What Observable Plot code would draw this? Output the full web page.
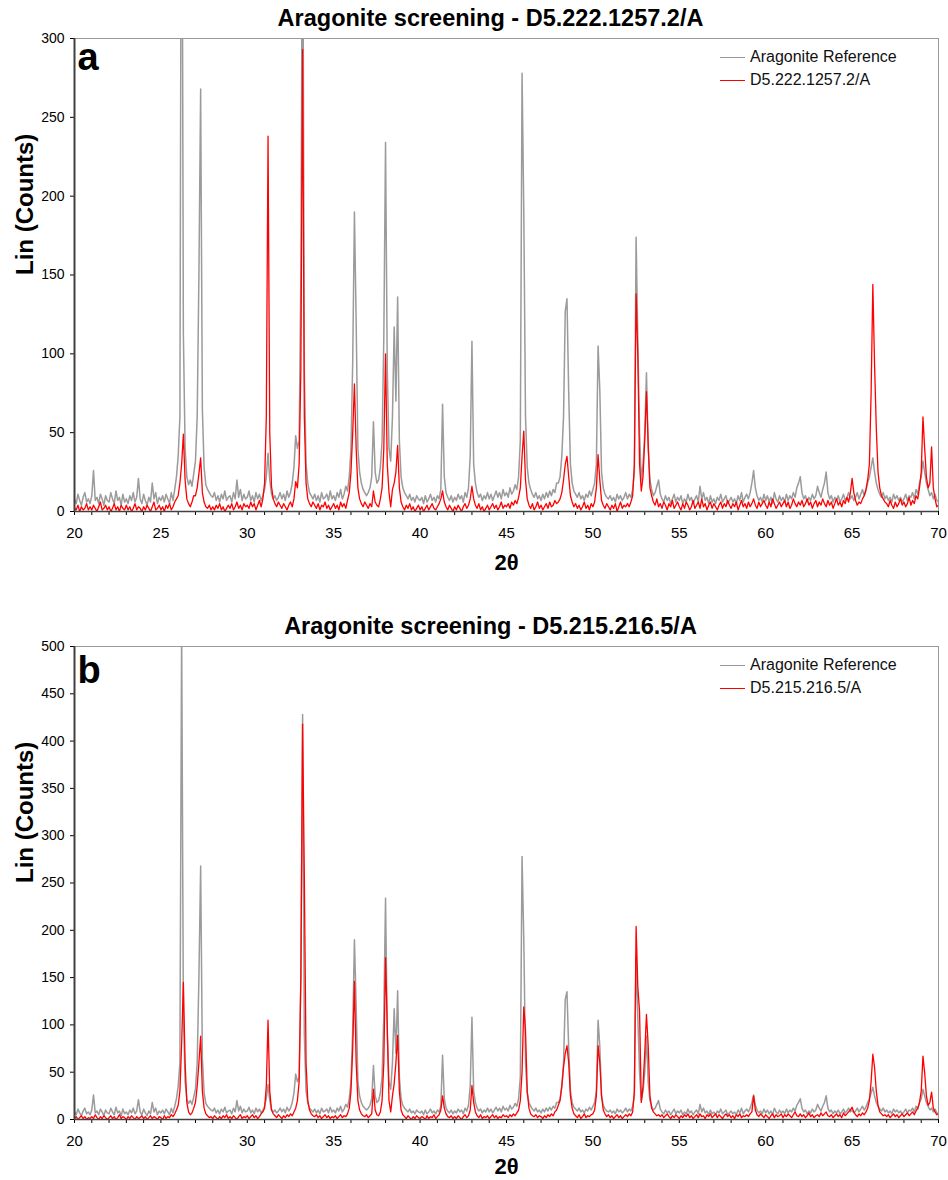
<!DOCTYPE html>
<html>
<head>
<meta charset="utf-8">
<script src="https://cdn.jsdelivr.net/npm/d3@7"></script>
<script src="https://cdn.jsdelivr.net/npm/@observablehq/plot@0.6"></script>
<style>
  body { margin: 0; background: #fff; font-family: "Liberation Sans", Arial, sans-serif; }
  .panel { position: relative; width: 948px; height: 590px; }
  .panel svg { display: block; }
  .legend-row { position: absolute; left: 720px; height: 20px; display: flex; align-items: center; font-size: 16px; color: #111; white-space: nowrap; }
  .legend-swatch { display: inline-block; width: 25px; height: 0; margin-right: 5px; }
</style>
</head>
<body>
<div id="root"></div>
<script>
// 2θ scan: start angle and step (degrees)
const angleStart = 20;
const angleStep = 0.1;

// Aragonite reference pattern (counts), one row per degree (x.0 ... x.9)
const aragoniteRef = [
  8,5,11,7,4,9,12,6,8,5,
  10,26,7,9,5,11,8,4,10,7,
  6,12,8,5,13,7,9,4,11,6,
  8,5,10,7,12,6,9,21,8,5,
  11,7,4,9,6,18,8,12,5,9,
  7,10,6,11,8,5,12,7,14,22,
  35,60,520,113,40,22,17,20,16,24,
  32,60,150,268,65,28,17,14,12,10,
  9,12,7,10,6,11,8,13,7,9,
  10,6,12,8,20,9,14,7,11,8,
  9,13,7,10,6,12,8,11,7,10,
  14,22,37,20,11,8,10,7,9,12,
  8,11,7,13,9,12,18,28,48,40,
  45,150,428,90,30,18,12,10,8,11,
  7,10,6,12,8,9,11,7,13,8,
  10,7,12,9,14,8,11,16,13,22,
  40,95,190,120,40,25,18,14,12,10,
  12,15,22,57,25,18,20,28,45,110,
  234,90,40,32,60,117,70,136,45,22,
  15,12,10,8,11,7,9,6,10,8,
  7,9,5,10,6,8,11,7,9,6,
  10,8,14,68,22,12,9,7,10,6,
  9,7,11,8,10,6,12,9,15,35,
  108,30,18,12,9,11,7,10,8,12,
  8,11,7,10,13,9,12,8,14,10,
  12,9,15,11,13,17,14,22,45,278,
  191,60,28,18,14,11,9,12,8,10,
  7,11,8,12,9,13,10,14,12,18,
  18,22,35,60,127,135,75,30,18,13,
  11,9,12,8,10,7,11,9,13,10,
  14,18,30,105,77,25,15,11,9,8,
  10,7,9,6,11,8,10,7,9,12,
  8,11,9,14,25,174,108,50,20,30,
  50,88,40,20,14,10,12,16,20,11,
  8,6,10,7,9,5,8,11,6,9,
  7,10,5,8,6,11,7,9,5,8,
  10,6,16,8,12,7,9,5,10,6,
  8,5,9,7,11,6,8,10,5,7,
  9,6,8,5,10,7,12,6,9,11,
  8,12,18,26,15,10,7,9,6,11,
  7,10,6,9,5,12,8,6,10,7,
  9,6,11,7,10,8,12,9,15,18,
  22,12,8,10,6,9,7,11,8,10,
  16,12,9,14,18,25,12,8,10,6,
  9,7,10,6,8,11,7,9,12,8,
  10,7,9,12,8,11,14,10,13,18,
  22,28,34,25,18,14,11,9,12,8,
  10,7,9,6,11,8,10,7,9,6,
  8,11,7,10,9,12,8,14,11,18,
  22,32,25,18,14,10,12,8,11,7,
  6
];

// Sample D5.222.1257.2/A (counts)
const sampleA = [
  2,1,4,0,3,1,2,5,1,3,
  1,4,2,0,3,6,1,2,4,1,
  3,0,2,5,1,3,0,4,2,1,
  4,1,3,0,2,5,1,3,2,0,
  3,1,4,2,0,3,6,1,2,4,
  1,3,0,4,2,5,1,3,6,8,
  10,18,30,49,20,8,5,3,6,10,
  10,15,24,34,12,6,3,2,4,1,
  3,1,4,2,5,1,3,0,2,4,
  2,5,1,3,6,2,4,1,5,3,
  4,2,6,3,5,1,4,7,3,8,
  18,60,238,50,16,8,5,3,6,4,
  2,5,3,1,4,6,3,8,19,15,
  30,90,293,60,18,8,5,3,6,4,
  2,5,1,4,3,6,2,4,1,3,
  5,2,4,1,6,3,5,2,7,12,
  25,50,81,40,15,8,5,3,6,4,
  2,5,3,13,6,4,3,8,15,40,
  100,30,12,3,14,18,25,42,15,6,
  3,1,4,2,5,1,3,0,2,4,
  1,3,0,2,4,1,3,5,2,1,
  3,5,8,13,6,3,1,4,2,0,
  3,1,4,2,0,3,5,2,4,8,
  16,8,4,2,5,1,3,0,2,4,
  1,3,5,2,4,1,3,6,2,4,
  3,5,2,6,4,7,5,9,15,35,
  51,20,8,4,2,5,1,3,6,2,
  4,1,3,5,2,6,3,4,7,5,
  6,8,12,20,30,35,22,10,6,3,
  5,2,4,1,3,6,2,4,1,5,
  3,6,15,36,20,7,4,2,5,3,
  1,4,2,5,0,3,6,2,4,3,
  5,3,6,10,30,138,99,30,13,22,
  45,76,43,15,10,6,4,8,3,5,
  2,6,4,1,5,3,7,2,4,6,
  3,1,5,2,6,4,1,3,7,2,
  4,6,2,8,3,5,1,4,6,2,
  5,3,1,4,6,2,5,3,7,4,
  2,5,3,6,1,4,7,3,5,2,
  6,3,5,8,4,2,6,3,5,7,
  4,2,6,3,8,5,2,4,6,3,
  5,7,3,6,2,4,8,5,3,6,
  4,7,3,5,8,4,6,2,5,7,
  3,6,4,8,5,3,7,4,6,2,
  5,8,4,6,3,7,5,9,6,12,
  21,12,7,4,6,5,8,10,14,20,
  30,75,144,93,53,25,15,10,8,6,
  5,3,7,4,2,6,3,5,8,4,
  6,3,5,9,4,7,5,10,8,15,
  25,60,40,22,15,18,41,15,8,3,
  4
];

// Sample D5.215.216.5/A (counts)
const sampleB = [
  1,3,0,2,4,1,3,0,2,1,
  3,1,5,2,0,3,1,4,2,0,
  2,4,1,3,0,2,5,1,3,2,
  0,3,1,4,2,0,3,1,2,4,
  1,3,0,2,4,1,3,2,0,3,
  2,0,4,1,3,2,5,3,6,10,
  15,30,80,145,60,18,8,5,7,12,
  18,35,60,88,30,12,6,4,2,3,
  1,4,2,0,3,1,4,2,5,1,
  3,1,4,2,0,3,5,1,3,2,
  4,1,3,5,2,4,1,3,6,8,
  12,35,105,30,10,6,4,2,5,3,
  1,4,2,5,3,6,4,8,12,20,
  40,150,418,257,60,20,10,6,4,3,
  5,2,4,1,3,5,2,4,1,3,
  2,4,1,3,5,2,4,3,6,12,
  30,75,146,60,20,10,6,4,3,5,
  2,4,6,32,10,5,4,8,20,60,
  171,98,20,8,25,38,60,89,30,10,
  5,3,1,4,2,0,3,1,4,2,
  1,3,2,0,4,1,3,2,5,1,
  3,5,10,25,12,6,3,2,4,1,
  3,1,4,2,0,3,5,2,4,10,
  36,18,8,4,2,5,1,3,2,4,
  1,3,5,2,4,1,3,2,5,3,
  4,2,5,3,6,4,7,10,20,50,
  119,94,30,12,6,4,3,5,2,4,
  3,1,4,2,5,3,6,4,8,10,
  15,20,35,55,70,78,60,25,12,6,
  4,2,5,1,3,6,2,4,3,5,
  6,10,25,78,60,25,10,6,3,5,
  2,4,1,3,5,2,4,1,3,5,
  3,6,4,8,30,204,140,114,18,35,
  70,111,78,25,12,8,6,4,5,3,
  5,2,4,6,3,1,4,2,5,3,
  1,4,2,5,3,6,2,4,1,3,
  5,2,6,3,4,1,5,3,6,2,
  4,6,2,5,3,1,4,6,3,5,
  2,4,1,5,3,6,2,4,3,5,
  3,6,8,25,10,5,3,6,4,2,
  5,3,1,4,6,2,5,3,4,6,
  2,5,3,6,4,2,5,8,4,3,
  6,3,5,2,4,7,3,5,2,4,
  5,3,7,4,6,8,4,3,5,2,
  4,6,3,5,2,7,4,6,8,10,
  13,8,5,3,6,4,7,5,8,12,
  20,40,69,55,30,15,8,6,4,5,
  3,5,2,4,6,3,5,2,4,6,
  3,5,7,4,6,8,5,9,12,18,
  30,67,49,25,15,18,29,12,8,5,
  6
];

const xTickLabels = [20, 25, 30, 35, 40, 45, 50, 55, 60, 65, 70];
const xMinorTicks = [20,21,22,23,24,25,26,27,28,29,30,31,32,33,34,35,36,37,38,39,40,41,42,43,44,45,46,47,48,49,50,51,52,53,54,55,56,57,58,59,60,61,62,63,64,65,66,67,68,69,70];
const yTicksA = [0, 50, 100, 150, 200, 250, 300];
const yTicksB = [0, 50, 100, 150, 200, 250, 300, 350, 400, 450, 500];
const seriesNames = ["Aragonite Reference"];
const titles = ["Aragonite screening - D5.222.1257.2/A", "Aragonite screening - D5.215.216.5/A"];
const sampleNames = ["D5.222.1257.2/A", "D5.215.216.5/A"];
const panelLetters = ["a", "b"];

const panels = [
  {letter: panelLetters[0], title: titles[0], name: sampleNames[0], values: sampleA, yTicks: yTicksA, yMax: 300, mt: 38, mb: 79, letterDy: 5, xLabelDy: 51},
  {letter: panelLetters[1], title: titles[1], name: sampleNames[1], values: sampleB, yTicks: yTicksB, yMax: 500, mt: 56, mb: 61, letterDy: 10, xLabelDy: 47}
];

const toRows = vals => vals.map((v, i) => ({x: +(angleStart + i * angleStep).toFixed(1), y: v}));
const refRows = toRows(aragoniteRef);
const font = "Liberation Sans, Arial, Helvetica, sans-serif";
const root = document.getElementById("root");

for (const p of panels) {
  const sampleRows = toRows(p.values);
  const chart = Plot.plot({
    width: 948,
    height: 590,
    marginTop: p.mt,
    marginBottom: p.mb,
    marginLeft: 74,
    marginRight: 10,
    x: {domain: [20, 70]},
    y: {domain: [0, p.yMax]},
    style: {fontFamily: font, background: "#fff", color: "#000", overflow: "visible"},
    marks: [
      Plot.frame({stroke: "#9a9a9a", strokeWidth: 1}),
      Plot.lineY(refRows, {x: "x", y: "y", stroke: "#9b9b9b", strokeWidth: 1.5, clip: true}),
      Plot.lineY(sampleRows, {x: "x", y: "y", stroke: "#ff0000", strokeWidth: 1.3, clip: true}),
      Plot.axisY({ticks: p.yTicks, tickSize: 4, tickPadding: 6, fontSize: 14, label: null}),
      Plot.axisX({ticks: xMinorTicks, tickFormat: d => xTickLabels.includes(d) ? String(d) : "", tickSize: 4, tickPadding: 12, fontSize: 15, label: null}),
      Plot.ruleX([20], {stroke: "#404040", strokeWidth: 2}),
      Plot.ruleY([0], {stroke: "#404040", strokeWidth: 1.5}),
      Plot.text([p.title], {text: d => d, frameAnchor: "top", dx: -16, dy: -20, lineAnchor: "middle", fontSize: 23.5, fontWeight: "bold"}),
      Plot.text(["Lin (Counts)"], {text: d => d, frameAnchor: "left", dx: -49, rotate: -90, lineAnchor: "middle", fontSize: 24, fontWeight: "bold"}),
      Plot.text(["2θ"], {text: d => d, frameAnchor: "bottom", dy: p.xLabelDy, lineAnchor: "middle", fontSize: 22, fontWeight: "bold"}),
      Plot.text([p.letter], {text: d => d, frameAnchor: "top-left", dx: 3, dy: p.letterDy, textAnchor: "start", lineAnchor: "top", fontSize: 38, fontWeight: "bold"})
    ]
  });
  const wrap = document.createElement("div");
  wrap.className = "panel";
  wrap.appendChild(chart);
  const items = [[seriesNames[0], "#999999"], [p.name, "#ff0000"]];
  items.forEach(([label, color], k) => {
    const row = document.createElement("div");
    row.className = "legend-row";
    row.style.top = (p.mt + 19 + k * 23 - 10) + "px";
    row.innerHTML = `<span class="legend-swatch" style="border-top:1.5px solid ${color}"></span><span>${label}</span>`;
    wrap.appendChild(row);
  });
  root.appendChild(wrap);
}
</script>
</body>
</html>
